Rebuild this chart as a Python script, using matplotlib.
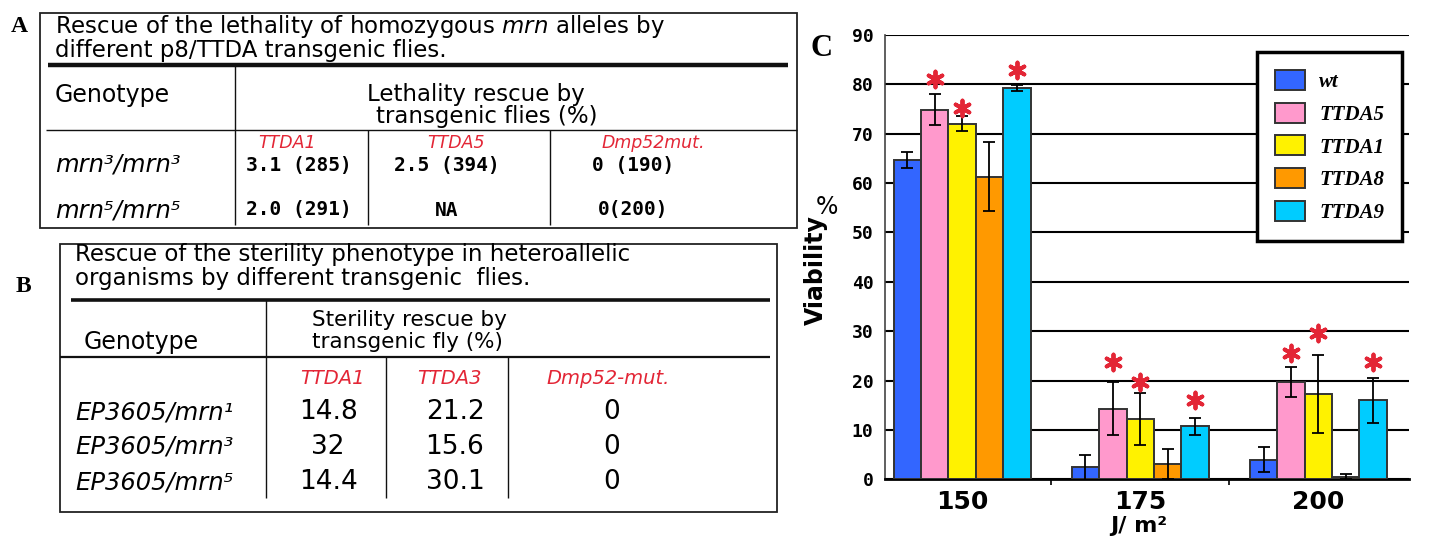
import numpy as np
import matplotlib.pyplot as plt
from matplotlib.patches import Rectangle

# ---- panel A: lethality rescue table ----
title_A = [r"Rescue of the lethality of homozygous $\mathit{mrn}$ alleles by",
           "different p8/TTDA transgenic flies."]
genotypes_A = ["mrn³/mrn³", "mrn⁵/mrn⁵"]
lines_A = ["TTDA1", "TTDA5", "Dmp52mut."]
rescue_A = [["3.1 (285)", "2.5 (394)", "0 (190)"],
            ["2.0 (291)", "NA", "0(200)"]]

# ---- panel B: sterility rescue table ----
title_B = ["Rescue of the sterility phenotype in heteroallelic",
           "organisms by different transgenic  flies."]
genotypes_B = ["EP3605/mrn¹", "EP3605/mrn³", "EP3605/mrn⁵"]
lines_B = ["TTDA1", "TTDA3", "Dmp52-mut."]
rescue_B = [["14.8", "21.2", "0"],
            ["32", "15.6", "0"],
            ["14.4", "30.1", "0"]]

# ---- panel C: viability (%) after UV dose ----
doses = ["150", "175", "200"]
strains = ["wt", "TTDA5", "TTDA1", "TTDA8", "TTDA9"]
viab_wt = [64.7, 2.4, 4.0]
viab_ttda5 = [74.9, 14.3, 19.7]
viab_ttda1 = [72.0, 12.2, 17.3]
viab_ttda8 = [61.3, 3.1, 0.5]
viab_ttda9 = [79.2, 10.7, 16.0]
err_wt = [1.6, 2.5, 2.6]
err_ttda5 = [3.2, 5.4, 3.1]
err_ttda1 = [1.5, 5.2, 7.9]
err_ttda8 = [7.0, 3.0, 0.5]
err_ttda9 = [0.6, 1.7, 4.5]
# height of red significance asterisks (None = no asterisk)
star_ttda5 = [81.1, 23.7, 25.5]
star_ttda1 = [75.3, 19.8, 29.6]
star_ttda9 = [83.0, 16.1, 23.7]

viab = [viab_wt, viab_ttda5, viab_ttda1, viab_ttda8, viab_ttda9]
errs = [err_wt, err_ttda5, err_ttda1, err_ttda8, err_ttda9]
stars = [None, star_ttda5, star_ttda1, None, star_ttda9]
colors = ["#3366ff", "#ff99cc", "#fff200", "#ff9900", "#00ccff"]
red = "#e32636"

fig = plt.figure(figsize=(14.4, 5.39), dpi=100)

# overlay in pixel coordinates for the two tables
lay = fig.add_axes([0, 0, 1, 1])
lay.set_xlim(0, 1440)
lay.set_ylim(539, 0)
lay.axis("off")


def line(x0, x1, y0, y1, lw=1.0):
    lay.plot([x0, x1], [y0, y1], color="#111111", lw=lw, solid_capstyle="butt")


sans = "DejaVu Sans"

# table A
lay.add_patch(Rectangle((40, 13), 757, 215, fill=False, lw=1.3, ec="#222222"))
lay.text(19, 27, "A", fontsize=17, fontweight="bold", family="Liberation Serif", ha="center", va="center")
for i, t in enumerate(title_A):
    lay.text(55, 26 + 24 * i, t, fontsize=16.5, family=sans, va="center")
line(48, 788, 65, 65, lw=3.2)
line(235, 235, 65, 225)
line(46, 797, 130, 130)
line(368, 368, 130, 225)
line(550, 550, 130, 225)
lay.text(55, 95, "Genotype", fontsize=17, family=sans, va="center")
lay.text(476, 94, "Lethality rescue by", fontsize=16.5, family=sans, va="center", ha="center")
lay.text(487, 117, "transgenic flies (%)", fontsize=16.5, family=sans, va="center", ha="center")
for x, name in zip([287, 456, 653], lines_A):
    lay.text(x, 143, name, fontsize=12.5, family=sans, style="italic",
             color=red, ha="center", va="center")
for r, (g, y) in enumerate(zip(genotypes_A, [165, 210])):
    lay.text(55, y, g, fontsize=17.5, family=sans, style="italic", va="center")
    for x, v in zip([299, 447, 633], rescue_A[r]):
        lay.text(x, y, v, fontsize=14, family="DejaVu Sans Mono", fontweight="bold",
                 ha="center", va="center")

# table B
lay.add_patch(Rectangle((60, 244), 717, 268, fill=False, lw=1.3, ec="#222222"))
lay.text(23, 287, "B", fontsize=17, fontweight="bold", family="Liberation Serif", ha="center", va="center")
for i, t in enumerate(title_B):
    lay.text(75, 255 + 24 * i, t, fontsize=16.5, family=sans, va="center")
line(71, 770, 300, 300, lw=2.6)
line(266, 266, 300, 498)
line(60, 770, 357, 357, lw=1.6)
line(386, 386, 357, 498)
line(508, 508, 357, 498)
lay.text(84, 342, "Genotype", fontsize=17, family=sans, va="center")
lay.text(312, 320, "Sterility rescue by", fontsize=15.5, family=sans, va="center")
lay.text(312, 342, "transgenic fly (%)", fontsize=15.5, family=sans, va="center")
for x, name in zip([332, 449, 608], lines_B):
    lay.text(x, 378, name, fontsize=14, family=sans, style="italic",
             color=red, ha="center", va="center")
for r, (g, y) in enumerate(zip(genotypes_B, [412, 447, 482])):
    lay.text(75, y, g, fontsize=17.5, family=sans, style="italic", va="center")
    for x, v in zip([328, 455, 612], rescue_B[r]):
        lay.text(x, y, v, fontsize=19, family=sans, ha="center", va="center")

# panel C bar chart
ax = fig.add_axes([884.7 / 1440, 1 - 479.3 / 539, (1409 - 884.7) / 1440, (479.3 - 35) / 539])
x = np.arange(len(doses))
w = 0.1536
handles = []
for i, (name, vals, e, st, c) in enumerate(zip(strains, viab, errs, stars, colors)):
    pos = x + (i - 2) * w
    b = ax.bar(pos, vals, width=w, color=c, edgecolor="#333333", linewidth=1.4, zorder=3)
    handles.append(b)
    ax.errorbar(pos, vals, yerr=e, fmt="none", ecolor="black", elinewidth=1.3,
                capsize=4, capthick=1.3, zorder=4)
    if st is not None:
        ax.scatter(pos, st, marker=(6, 2, 0), s=130, color=red, linewidths=2.8, zorder=5)

ax.set_xlim(-0.435, 2.51)
ax.set_ylim(0, 90)
ax.set_yticks(np.arange(0, 91, 10))
ax.set_yticklabels([str(v) for v in range(0, 91, 10)], family="DejaVu Sans Mono",
                   fontweight="bold", fontsize=13)
ax.tick_params(axis="y", length=0, pad=8)
ax.set_xticks(x)
ax.set_xticklabels(doses, fontsize=18, fontweight="bold")
ax.set_xticks([0.5, 1.5], minor=True)
ax.tick_params(axis="x", which="major", length=0, pad=8)
ax.tick_params(axis="x", which="minor", length=4, width=1.2)
ax.yaxis.grid(True, color="black", lw=1.5)
ax.set_axisbelow(True)
for s in ["top", "right"]:
    ax.spines[s].set_visible(False)
ax.spines["left"].set_color("#444444")
ax.spines["left"].set_linewidth(1.2)
ax.spines["bottom"].set_linewidth(2)

leg = ax.legend(handles, strains, loc="upper left", bbox_to_anchor=(0.710, 0.962),
                borderaxespad=0, frameon=True, fancybox=False, framealpha=1,
                edgecolor="black", borderpad=0.85, labelspacing=0.52,
                handlelength=1.45, handleheight=1.1, handletextpad=0.7,
                prop={"family": "Liberation Serif", "style": "italic",
                      "weight": "bold", "size": 15})
leg.get_frame().set_linewidth(2.5)

lay.text(822, 48, "C", fontsize=22, fontweight="bold", family="Liberation Serif", ha="center", va="center")
lay.text(816, 270, "Viability", fontsize=17, fontweight="bold", family=sans,
         rotation=90, ha="center", va="center")
lay.text(827, 207, "%", fontsize=17, family=sans, ha="center", va="center")
lay.text(1139, 526, "J/ m²", fontsize=16, fontweight="bold", family=sans, ha="center", va="center")

fig.savefig("out.png", dpi=100)
